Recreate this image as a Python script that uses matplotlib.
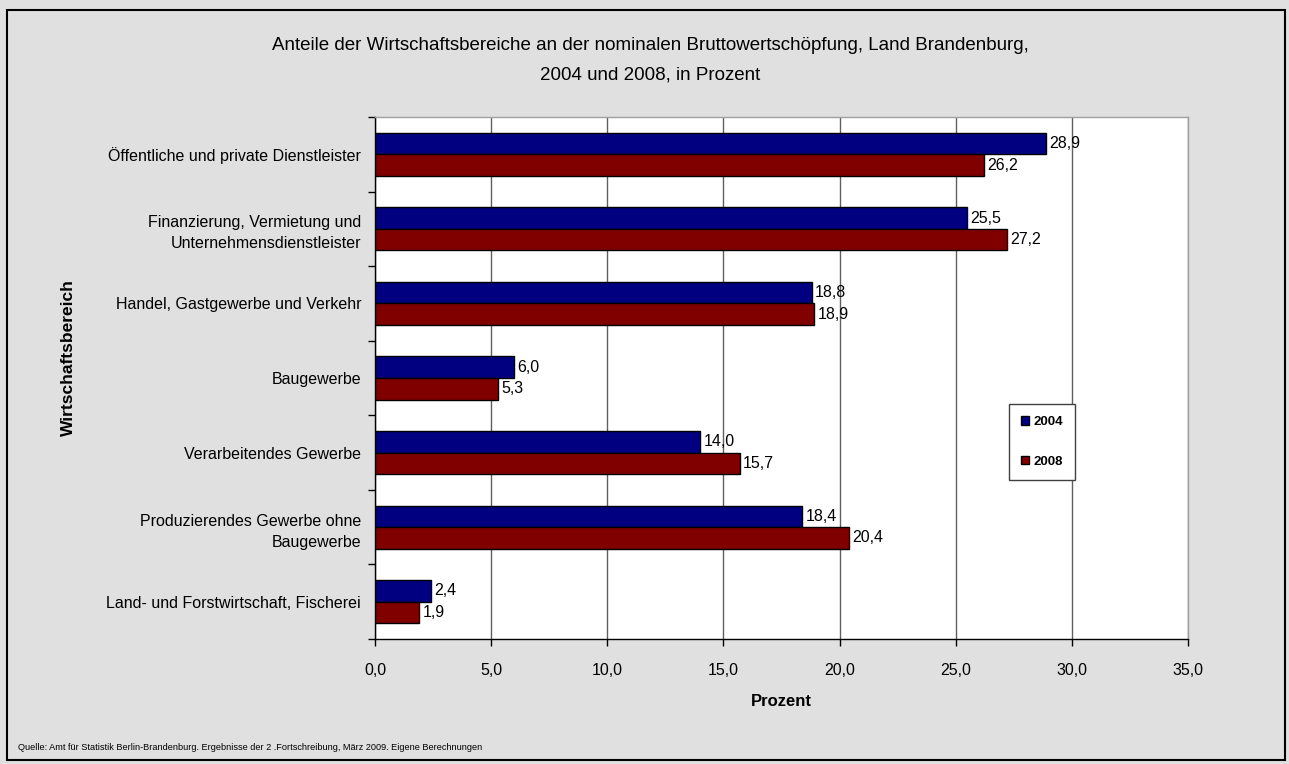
import matplotlib
matplotlib.use("Agg")
import matplotlib.pyplot as plt
import numpy as np
from matplotlib.patches import Rectangle

categories = [
    "Öffentliche und private Dienstleister",
    "Finanzierung, Vermietung und\nUnternehmensdienstleister",
    "Handel, Gastgewerbe und Verkehr",
    "Baugewerbe",
    "Verarbeitendes Gewerbe",
    "Produzierendes Gewerbe ohne\nBaugewerbe",
    "Land- und Forstwirtschaft, Fischerei",
]
values_2004 = [28.9, 25.5, 18.8, 6.0, 14.0, 18.4, 2.4]
values_2008 = [26.2, 27.2, 18.9, 5.3, 15.7, 20.4, 1.9]
series_labels = ["2004", "2008"]
xticks = [0, 5, 10, 15, 20, 25, 30, 35]

plt.rcParams['font.family'] = ['Liberation Sans', 'DejaVu Sans']
narrow = ['Liberation Sans Narrow', 'Liberation Sans', 'DejaVu Sans']

W, H = 1289, 764
fig = plt.figure(figsize=(W/100, H/100), dpi=100)
fig.patch.set_facecolor('#e0e0e0')
fig.patches.append(Rectangle((7/W, 1 - 760/H), (1285-7)/W, (760-10)/H,
                             transform=fig.transFigure, fill=False,
                             edgecolor='black', linewidth=1.5))

left, right, top, bottom = 375, 1188, 117, 639
ax = fig.add_axes([left/W, 1 - bottom/H, (right-left)/W, (bottom-top)/H])
ax.set_facecolor('white')

n = len(categories)
y = np.arange(n)
bh = 0.29
c04 = '#000080'
c08 = '#800000'
b1 = ax.barh(y - bh/2, values_2004, height=bh, color=c04, edgecolor='black', linewidth=1, label=series_labels[0], zorder=3)
b2 = ax.barh(y + bh/2, values_2008, height=bh, color=c08, edgecolor='black', linewidth=1, label=series_labels[1], zorder=3)
for bars, vals in ((b1, values_2004), (b2, values_2008)):
    for rect, v in zip(bars, vals):
        ax.text(rect.get_width() + 0.14, rect.get_y() + rect.get_height()/2,
                f"{v:.1f}".replace('.', ','), va='center', ha='left',
                fontsize=11.5, zorder=4)

ax.set_ylim(n - 0.5, -0.5)
ax.set_xlim(0, 35)
ax.set_xticks(xticks)
ax.set_xticklabels([f"{t:.1f}".replace('.', ',') for t in xticks], fontsize=11.5)
ax.set_yticks(y)
ax.set_yticklabels(categories, fontsize=11.5, linespacing=1.5)
ax.set_yticks(np.arange(n + 1) - 0.5, minor=True)
ax.tick_params(axis='y', which='major', length=0, pad=10)
ax.tick_params(axis='y', which='minor', length=5, width=1, direction='out')
ax.tick_params(axis='x', which='major', length=5, width=1, direction='out', pad=12)
ax.grid(axis='x', color='#606060', linewidth=1, zorder=0)
ax.set_axisbelow(True)
for s in ('top', 'right'):
    ax.spines[s].set_color('#a0a0a0')
    ax.spines[s].set_linewidth(1)
for s in ('left', 'bottom'):
    ax.spines[s].set_color('black')
    ax.spines[s].set_linewidth(1)

ax.set_xlabel("Prozent", fontsize=12, fontweight='bold', labelpad=12)
fig.text(68/W, 1 - 358/H, "Wirtschaftsbereich", rotation=90, fontsize=12.5,
         fontweight='bold', ha='center', va='center')

fig.text(650/W, 1 - 46/H, "Anteile der Wirtschaftsbereiche an der nominalen Bruttowertschöpfung, Land Brandenburg,",
         family=narrow, fontsize=13.5, ha='center', va='center')
fig.text(650/W, 1 - 75/H, "2004 und 2008, in Prozent",
         family=narrow, fontsize=13.5, ha='center', va='center')

fig.text(18/W, 1 - 747/H,
         "Quelle: Amt für Statistik Berlin-Brandenburg. Ergebnisse der 2 .Fortschreibung, März 2009. Eigene Berechnungen",
         fontsize=6.6, ha='left', va='center')

leg = fig.legend(handles=[b1, b2], labels=series_labels, loc='center',
                 bbox_to_anchor=(1042/W, 1 - 442/H), frameon=True, fancybox=False,
                 edgecolor='#404040', facecolor='white', framealpha=1,
                 prop={'weight': 'bold', 'size': 9.5}, handlelength=0.6,
                 handleheight=0.6, handletextpad=0.3, labelspacing=2.1,
                 borderpad=0.9, borderaxespad=0)
leg.get_frame().set_linewidth(1)

fig.savefig("out.png", dpi=100, facecolor=fig.get_facecolor())
